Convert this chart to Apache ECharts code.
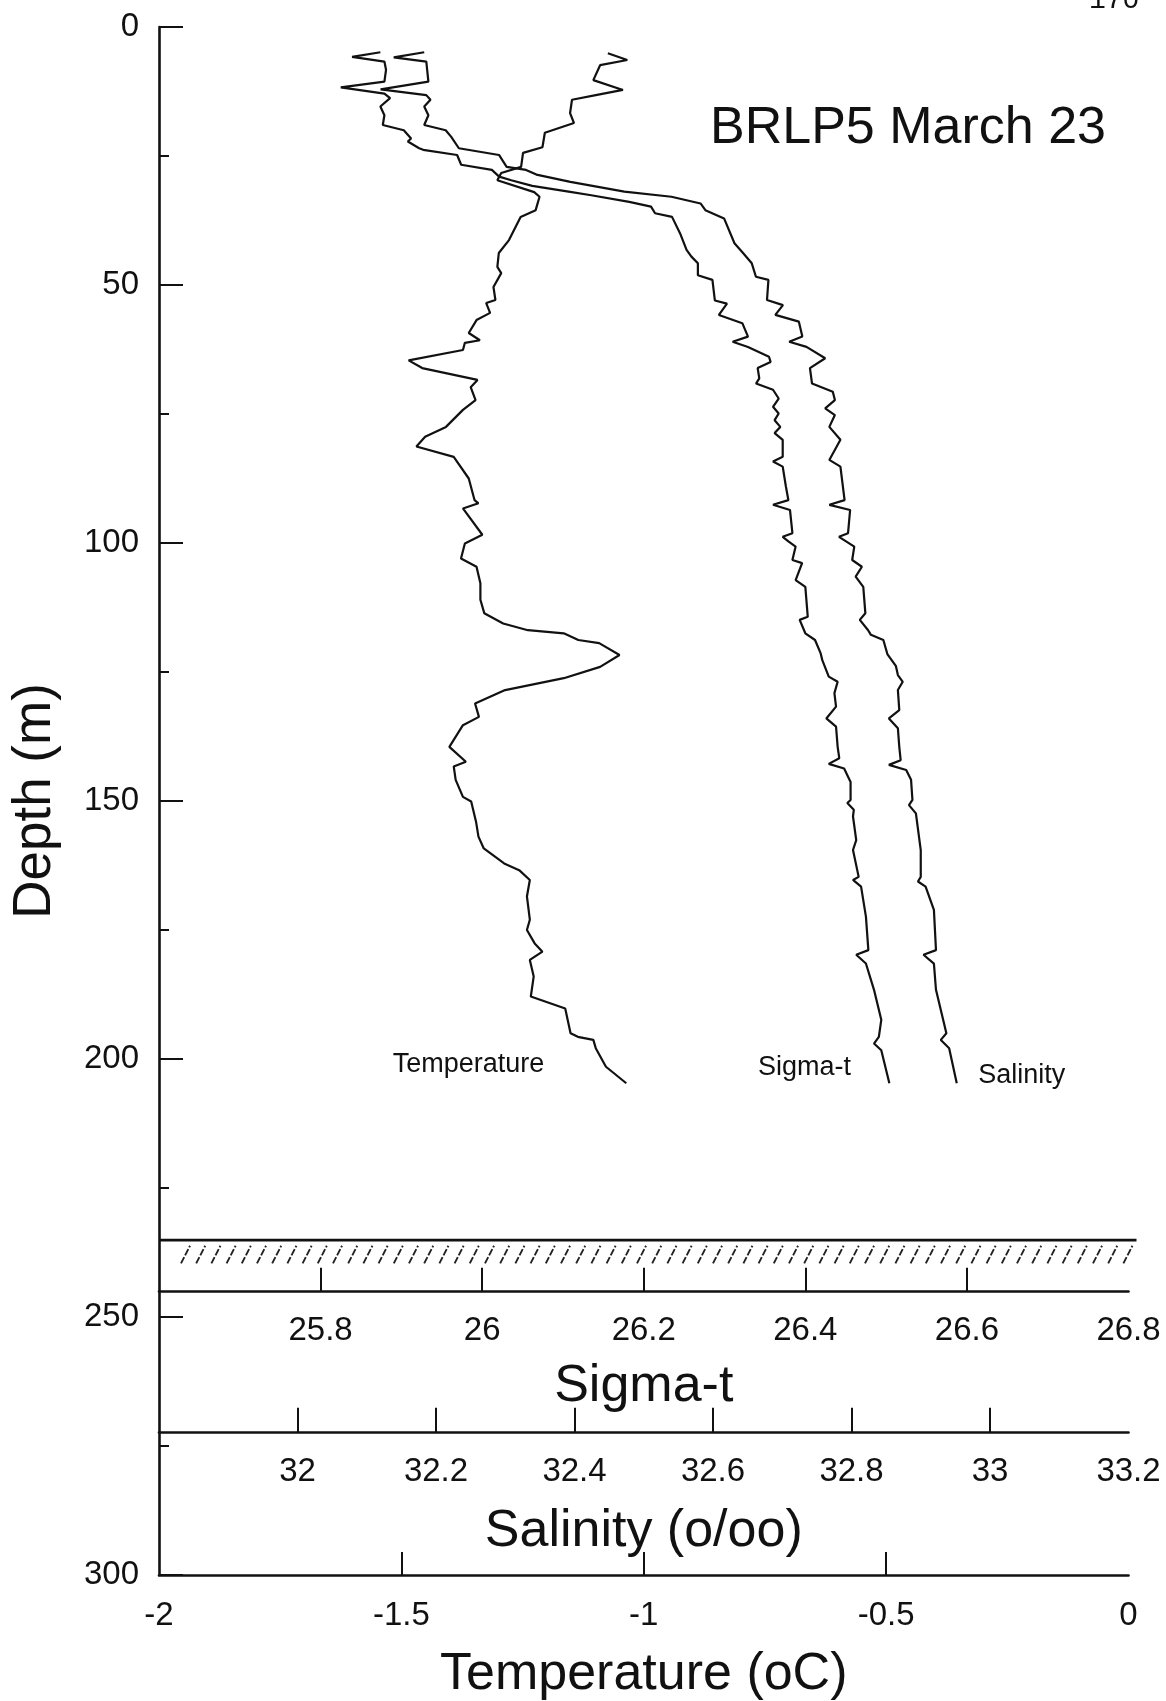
<!DOCTYPE html>
<html><head><meta charset="utf-8">
<script src="https://cdn.jsdelivr.net/npm/echarts@6/dist/echarts.min.js"></script>
<style>html,body{margin:0;padding:0;background:#fff}#c{width:1166px;height:1701px}</style>
</head><body><div id="c"></div>
<script>
// ---- data ----
const tempDepth = [5.1,6.4,7.4,10.3,12.2,13.2,14.1,16.7,18.6,20.5,23.3,24.4,27.1,28.3,29.7,32.0,32.9,35.5,36.8,41.3,43.8,46.5,47.7,50.4,52.9,53.5,55.4,56.8,59.3,60.7,61.2,62.6,64.6,66.1,68.4,69.8,72.3,74.2,77.5,79.4,81.3,83.3,87.5,91.7,92.3,93.3,98.4,100.1,103.0,104.6,107.8,111.0,113.6,115.6,116.9,117.5,118.8,119.4,121.7,124.0,126.2,128.5,131.1,133.7,135.3,139.5,142.4,143.3,145.9,149.2,150.1,154.0,156.9,159.2,162.1,163.4,165.3,168.5,173.0,175.0,177.6,179.2,180.8,184.0,187.9,190.2,195.0,195.7,196.3,197.9,201.5,204.7];
const tempValue = [-1.074,-1.034,-1.090,-1.104,-1.043,-1.099,-1.148,-1.152,-1.144,-1.204,-1.209,-1.249,-1.253,-1.294,-1.302,-1.226,-1.215,-1.223,-1.254,-1.278,-1.299,-1.302,-1.294,-1.310,-1.306,-1.325,-1.317,-1.345,-1.361,-1.338,-1.369,-1.373,-1.485,-1.457,-1.343,-1.357,-1.347,-1.373,-1.408,-1.451,-1.469,-1.392,-1.361,-1.349,-1.341,-1.373,-1.333,-1.369,-1.377,-1.345,-1.337,-1.337,-1.329,-1.290,-1.239,-1.165,-1.135,-1.092,-1.050,-1.090,-1.165,-1.286,-1.348,-1.340,-1.373,-1.401,-1.367,-1.392,-1.388,-1.373,-1.356,-1.346,-1.341,-1.330,-1.288,-1.257,-1.235,-1.241,-1.235,-1.241,-1.225,-1.209,-1.235,-1.227,-1.233,-1.162,-1.151,-1.136,-1.104,-1.099,-1.078,-1.036];

const sigmaDepth = [4.9,5.8,6.7,8.3,10.6,11.7,12.9,13.8,15.4,17.1,19.0,20.0,21.6,22.2,23.5,23.8,24.8,26.7,27.7,29.0,29.7,30.8,31.9,32.6,33.9,34.8,36.1,36.8,40.0,43.2,44.5,45.8,48.1,49.0,53.0,53.6,55.8,57.4,60.0,61.0,62.0,63.9,64.9,66.1,68.1,69.1,70.3,72.0,73.6,74.9,76.2,77.5,78.7,80.0,83.3,84.2,85.2,89.1,91.7,92.6,93.6,98.1,98.8,99.7,100.7,103.3,103.9,107.2,108.5,114.3,114.9,117.5,118.8,121.4,122.7,125.9,126.9,129.1,131.7,134.0,135.6,139.5,141.7,142.8,143.7,146.3,149.8,150.4,151.7,153.0,157.6,159.5,164.7,165.3,166.6,172.4,178.9,179.8,181.5,186.6,192.4,195.7,197.0,198.3,204.7];
const sigmaValue = [25.874,25.839,25.879,25.881,25.879,25.825,25.879,25.886,25.874,25.879,25.877,25.903,25.912,25.908,25.922,25.927,25.969,25.974,26.012,26.021,26.036,26.062,26.107,26.135,26.182,26.209,26.214,26.235,26.245,26.253,26.259,26.267,26.267,26.285,26.288,26.303,26.293,26.322,26.329,26.310,26.329,26.355,26.357,26.341,26.343,26.339,26.360,26.367,26.360,26.367,26.362,26.369,26.362,26.372,26.372,26.360,26.372,26.376,26.379,26.360,26.381,26.384,26.372,26.379,26.388,26.384,26.396,26.388,26.400,26.403,26.393,26.400,26.412,26.419,26.421,26.429,26.440,26.436,26.438,26.426,26.438,26.440,26.442,26.429,26.448,26.456,26.456,26.452,26.460,26.459,26.463,26.459,26.466,26.459,26.469,26.475,26.478,26.463,26.475,26.485,26.494,26.491,26.485,26.494,26.504];

const salDepth = [4.9,5.9,6.7,10.6,12.1,13.2,14.1,15.4,17.1,19.0,20.0,21.3,23.5,24.8,27.1,27.7,28.6,30.0,31.9,32.9,34.2,35.5,37.1,41.9,43.9,45.8,48.4,49.0,52.9,53.9,55.8,57.1,60.0,61.0,62.0,64.2,66.1,69.1,70.7,72.3,73.9,75.2,77.5,80.0,83.9,85.2,91.7,92.6,93.6,98.1,98.8,100.7,103.3,104.6,106.5,108.5,113.6,114.9,116.9,117.8,118.8,121.6,123.8,125.6,126.9,128.5,132.4,134.0,135.9,139.5,142.1,143.0,144.0,145.9,149.8,150.8,152.4,159.5,164.7,165.6,166.6,171.1,178.9,179.8,181.5,186.6,195.0,196.3,197.9,204.7];
const salValue = [32.183,32.139,32.186,32.189,32.120,32.186,32.192,32.183,32.189,32.183,32.214,32.222,32.233,32.291,32.302,32.330,32.345,32.394,32.472,32.540,32.582,32.589,32.616,32.631,32.644,32.656,32.662,32.680,32.678,32.701,32.690,32.724,32.729,32.710,32.735,32.762,32.740,32.743,32.773,32.776,32.762,32.776,32.768,32.784,32.768,32.784,32.790,32.768,32.798,32.795,32.782,32.804,32.801,32.815,32.806,32.817,32.820,32.812,32.824,32.828,32.846,32.852,32.864,32.867,32.874,32.867,32.869,32.854,32.867,32.869,32.871,32.854,32.879,32.886,32.888,32.883,32.893,32.900,32.900,32.896,32.907,32.919,32.922,32.904,32.919,32.922,32.937,32.929,32.941,32.952];

// axis ticks / labels
const tempTicks = [-1.5, -1, -0.5];
const tempLabels = [-2, -1.5, -1, -0.5, 0];
const sigmaTicks = [25.8, 26, 26.2, 26.4, 26.6];
const sigmaLabels = [25.8, 26, 26.2, 26.4, 26.6, 26.8];
const salTicks = [32, 32.2, 32.4, 32.6, 32.8, 33];
const salLabels = [32, 32.2, 32.4, 32.6, 32.8, 33, 33.2];
// bottom (sea floor) band depths: line, hatch top, hatch bottom
const bottomBand = [235.1, 236.2, 239.6];
// in-plot curve labels [x value, depth]
const tempLabelPos = [-1.3615, 201.0];
const sigmaLabelPos = [26.399, 201.7];
const salLabelPos = [33.046, 203.2];

const FONT = '"Liberation Sans", Arial, Helvetica, sans-serif';
const INK = '#111';

function pairs(xs, ds) { return ds.map((d, i) => [xs[i], d]); }

function bottomAxis(o) {
  return Object.assign({
    type: 'value', position: 'bottom', nameLocation: 'middle',
    nameTextStyle: {fontSize: 52, color: INK, fontFamily: FONT},
    axisLine: {show: true, onZero: false, lineStyle: {color: INK, width: 2.6}},
    axisTick: {show: true, inside: true, length: 24, lineStyle: {color: INK, width: 2}},
    axisLabel: {fontSize: 33, color: INK, margin: 23, fontFamily: FONT},
    splitLine: {show: false}, minorTick: {show: false}, minorSplitLine: {show: false}
  }, o);
}

function curveLabel(text, pos) {
  return {
    symbol: 'circle', symbolSize: 1, silent: true,
    itemStyle: {color: 'rgba(0,0,0,0)'},
    label: {show: true, position: 'inside', formatter: text, fontSize: 27, color: INK, fontFamily: FONT},
    data: [{coord: pos}]
  };
}

const chart = echarts.init(document.getElementById('c'), null, {renderer: 'canvas'});
const option = {
  animation: false,
  backgroundColor: '#fff',
  textStyle: {fontFamily: FONT, color: INK},
  title: {text: 'BRLP5 March 23', left: 705, top: 98,
    textStyle: {fontFamily: FONT, fontSize: 52, fontWeight: 'normal', color: INK}},
  grid: {left: 159, right: 37.5, top: 27, bottom: 126, containLabel: false, outerBoundsMode: 'none'},
  xAxis: [
    bottomAxis({min: -2, max: 0, interval: 0.5, name: 'Temperature (oC)', nameGap: 74,
      axisTick: {show: true, inside: true, length: 23, customValues: tempTicks, lineStyle: {color: INK, width: 2}},
      axisLabel: {fontSize: 33, color: INK, margin: 24, fontFamily: FONT, customValues: tempLabels}}),
    bottomAxis({min: 25.6, max: 26.8, offset: -283.3, name: 'Sigma-t', nameGap: 69,
      axisTick: {show: true, inside: true, length: 24, customValues: sigmaTicks, lineStyle: {color: INK, width: 2}},
      axisLabel: {fontSize: 33, color: INK, margin: 23, fontFamily: FONT, customValues: sigmaLabels}}),
    bottomAxis({min: 31.8, max: 33.2, offset: -142.3, name: 'Salinity (o/oo)', nameGap: 73,
      axisTick: {show: true, inside: true, length: 25, customValues: salTicks, lineStyle: {color: INK, width: 2}},
      axisLabel: {fontSize: 33, color: INK, margin: 23, fontFamily: FONT, customValues: salLabels}})
  ],
  yAxis: {
    type: 'value', min: 0, max: 300, interval: 50, inverse: true,
    name: 'Depth (m)', nameLocation: 'middle', nameGap: 97,
    nameTextStyle: {fontSize: 53, color: INK, fontFamily: FONT},
    axisLine: {show: true, onZero: false, lineStyle: {color: INK, width: 2.6}},
    axisTick: {show: true, inside: true, length: 24, lineStyle: {color: INK, width: 2}},
    minorTick: {show: true, splitNumber: 2, length: 10, lineStyle: {color: INK, width: 2}},
    axisLabel: {fontSize: 33, color: INK, margin: 20, fontFamily: FONT},
    splitLine: {show: false}, minorSplitLine: {show: false}
  },
  series: [
    {name: 'Temperature', type: 'line', xAxisIndex: 0, yAxisIndex: 0, data: pairs(tempValue, tempDepth),
      showSymbol: false, symbol: 'none', lineStyle: {color: INK, width: 2.2}, silent: true,
      markPoint: curveLabel('Temperature', tempLabelPos)},
    {name: 'Sigma-t', type: 'line', xAxisIndex: 1, yAxisIndex: 0, data: pairs(sigmaValue, sigmaDepth),
      showSymbol: false, symbol: 'none', lineStyle: {color: INK, width: 2.2}, silent: true,
      markPoint: curveLabel('Sigma-t', sigmaLabelPos)},
    {name: 'Salinity', type: 'line', xAxisIndex: 2, yAxisIndex: 0, data: pairs(salValue, salDepth),
      showSymbol: false, symbol: 'none', lineStyle: {color: INK, width: 2.2}, silent: true,
      markPoint: curveLabel('Salinity', salLabelPos)},
    {name: 'bottom', type: 'custom', xAxisIndex: 0, yAxisIndex: 0, silent: true, clip: false,
      encode: {x: 0, y: 1},
      data: [[-1, bottomBand[0], bottomBand[1], bottomBand[2]]],
      renderItem: function (params, api) {
        const yLine = api.coord([-2, api.value(1)])[1];
        const yTop = api.coord([-2, api.value(2)])[1];
        const yBot = api.coord([-2, api.value(3)])[1];
        const x0 = api.coord([-2, 0])[0];
        const x1 = api.coord([0, 0])[0];
        const children = [{type: 'line', shape: {x1: x0, y1: yLine, x2: x1 + 8, y2: yLine},
          style: {stroke: INK, lineWidth: 2.6}}];
        for (let x = x0 + 22; x < x1 - 2; x += 15.2) {
          children.push({type: 'line', shape: {x1: x, y1: yBot, x2: x + 9, y2: yTop},
            style: {stroke: '#222', lineWidth: 1.9, lineDash: [7, 2]}});
        }
        return {type: 'group', children: children};
      }}
  ],
  graphic: [
    {type: 'text', left: 1089, top: -13, silent: true,
      style: {text: '170', fontSize: 28, fontFamily: '"Liberation Mono", "DejaVu Sans Mono", monospace', fill: INK}}
  ]
};
chart.setOption(option);
</script>
</body></html>
